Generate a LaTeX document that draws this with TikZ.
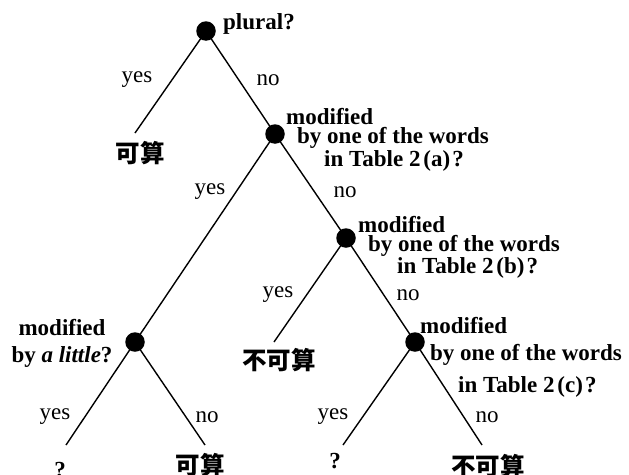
\documentclass[tikz,border=0pt]{standalone}
\usepackage{fontspec}
\setmainfont{Liberation Serif}
\newfontfamily\cjk{Noto Sans CJK SC}
\usetikzlibrary{backgrounds}
% bracketed table references, set a little apart from the number
\newcommand{\tref}[1]{\kern3pt(#1)\kern2pt}
\begin{document}
\begin{tikzpicture}[x=1pt,y=-1pt,
  dot/.style={circle,fill=black,inner sep=0pt,minimum size=19.5pt},
  branch/.style={line width=1.4pt},
  q/.style={font=\fontsize{23}{26}\selectfont\bfseries,inner sep=0pt,anchor=base west},
  qc/.style={font=\fontsize{23}{26}\selectfont\bfseries,inner sep=0pt,anchor=base},
  ans/.style={font=\fontsize{23}{26}\selectfont,inner sep=0pt},
  leaf/.style={font=\fontsize{24.5}{27}\selectfont\cjk\bfseries,inner sep=0pt},
  qmark/.style={font=\fontsize{23}{26}\selectfont\bfseries,inner sep=0pt,anchor=base}]
\useasboundingbox (0,0) rectangle (629,474);

% decision points
\node[dot] (r) at (206,31) {};
\node[dot] (a) at (275,134) {};
\node[dot] (b) at (346,238) {};
\node[dot] (c) at (135,342) {};
\node[dot] (d) at (415,342) {};

% free ends of the final branches
\coordinate (e1) at (135,133);
\coordinate (e2) at (274,342);
\coordinate (e3) at (66,445);
\coordinate (e4) at (205,445);
\coordinate (e5) at (343,445);
\coordinate (e6) at (482,445);

\begin{scope}[on background layer]
  \draw[branch] (r.center) -- (e1);
  \draw[branch] (r.center) -- (a.center);
  \draw[branch] (a.center) -- (c.center);
  \draw[branch] (a.center) -- (b.center);
  \draw[branch] (b.center) -- (e2);
  \draw[branch] (b.center) -- (d.center);
  \draw[branch] (c.center) -- (e3);
  \draw[branch] (c.center) -- (e4);
  \draw[branch] (d.center) -- (e5);
  \draw[branch] (d.center) -- (e6);
\end{scope}

% questions
\node[q] (qr) at (223,29) {plural?};
\node[q] (qa1) at (286,124) {modified};
\node[q] (qa2) at (297,143) {by one of the words};
\node[q] (qa3) at (324,166) {in Table 2\tref{a}?};
\node[q] (qb1) at (358,232) {modified};
\node[q] (qb2) at (368,251) {by one of the words};
\node[q] (qb3) at (397,273) {in Table 2\tref{b}?};
\node[qc] (qc1) at (62,335) {modified};
\node[qc] (qc2) at (62,362) {by \textit{a little}?};
\node[q] (qd1) at (420,333) {modified};
\node[q] (qd2) at (430,360) {by one of the words};
\node[q] (qd3) at (458,392) {in Table 2\tref{c}?};

% branch labels
\node[ans] (yr) at (137,80) {yes};
\node[ans] (nr) at (268,80) {no};
\node[ans] (ya) at (210,192) {yes};
\node[ans] (na) at (345,192) {no};
\node[ans] (yb) at (278,295) {yes};
\node[ans] (nb) at (408,295) {no};
\node[ans] (yc) at (55,417) {yes};
\node[ans] (nc) at (207,417) {no};
\node[ans] (yd) at (333,417) {yes};
\node[ans] (nd) at (487,417) {no};

% outcomes
\node[leaf] (o1) at (140,153) {可算};
\node[leaf] (o2) at (279,360) {不可算};
\node[qmark] (o3) at (60,477) {?};
\node[leaf] (o4) at (200,465) {可算};
\node[qmark] (o5) at (335,468) {?};
\node[leaf] (o6) at (488,466) {不可算};
\end{tikzpicture}
\end{document}
